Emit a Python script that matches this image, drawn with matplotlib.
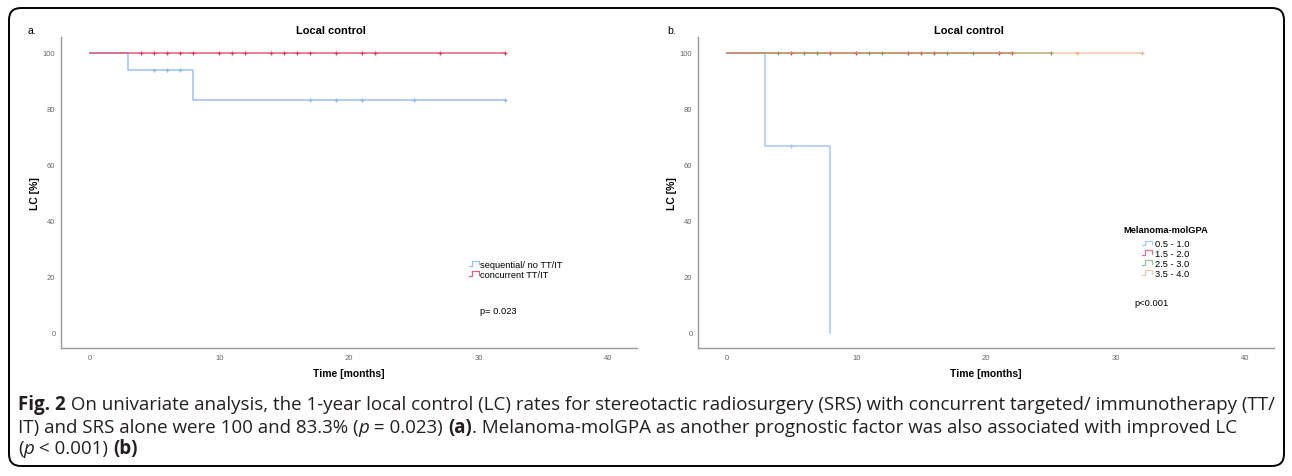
import matplotlib
matplotlib.use("Agg")
import matplotlib.pyplot as plt
from matplotlib.patches import FancyBboxPatch
from matplotlib.lines import Line2D
from matplotlib.legend_handler import HandlerBase
import numpy as np

plt.rcParams['font.family'] = ['Liberation Sans', 'DejaVu Sans']

# ---------------- data ----------------
# Panel a
a_labels = ["sequential/ no TT/IT", "concurrent TT/IT"]
a_blue_t = [0, 3, 8, 32]
a_blue_s = [100, 93.75, 83.3, 83.3]
a_blue_cens = [5, 6, 7, 17, 19, 21, 25, 32]
a_red_t = [0, 32]
a_red_s = [100, 100]
a_red_cens = [4, 5, 6, 7, 8, 10, 11, 12, 14, 15, 16, 17, 19, 21, 22, 27, 32]
a_pvalue = "p= 0.023"

# Panel b
b_labels = ["0.5 - 1.0", "1.5 - 2.0", "2.5 - 3.0", "3.5 - 4.0"]
b_t = [[0, 3, 8], [0, 22], [0, 25], [0, 32]]
b_s = [[100, 66.7, 0], [100, 100], [100, 100], [100, 100]]
b_cens = [[5],
          [5, 8, 10, 14, 15, 16, 21, 22],
          [4, 6, 7, 11, 12, 17, 19, 25],
          [27, 32]]
b_pvalue = "p<0.001"

x_ticks = [0, 10, 20, 30, 40]
y_ticks = [0, 20, 40, 60, 80, 100]

a_colors = ['#8db6ee', '#e0436a']
b_colors = ['#a6c8f3', '#e0385c', '#3f9a3f', '#f7a27a']
b_alphas = [1.0, 0.7, 0.55, 0.6]

W, H = 1292, 477
fig = plt.figure(figsize=(W / 100, H / 100), dpi=100)


def step_value(t, s, x):
    idx = np.searchsorted(t, x, side='right') - 1
    return s[max(idx, 0)]


class StepHandler(HandlerBase):
    def create_artists(self, legend, orig_handle, xdescent, ydescent,
                       width, height, fontsize, trans):
        x0, y0 = -xdescent, -ydescent
        xs = [x0, x0 + 0.35 * width, x0 + 0.35 * width, x0 + width, x0 + width]
        ys = [y0 + 0.15 * height, y0 + 0.15 * height, y0 + 0.85 * height,
              y0 + 0.85 * height, y0 + 0.35 * height]
        ln = Line2D(xs, ys, color=orig_handle.get_color(), lw=0.9,
                    alpha=orig_handle.get_alpha())
        ln.set_transform(trans)
        return [ln]


def style_axes(ax):
    ax.set_xlim(-2.2, 42.2)
    ax.set_ylim(-5.4, 105.7)
    ax.set_xticks(x_ticks)
    ax.set_yticks(y_ticks)
    ax.tick_params(length=0, labelsize=5.5, labelcolor='#666666', pad=4)
    for sp in ['top', 'right']:
        ax.spines[sp].set_visible(False)
    for sp in ['left', 'bottom']:
        ax.spines[sp].set_color('#9a9a9a')
        ax.spines[sp].set_linewidth(1.0)
    ax.set_xlabel("Time [months]", fontsize=7.5, fontweight='bold', labelpad=5.5)
    ax.set_ylabel("LC [%]", fontsize=7.5, fontweight='bold', labelpad=2)


# ---------------- panel a ----------------
ax1 = fig.add_axes([61 / W, 1 - 349 / H, 576 / W, 311 / H])
style_axes(ax1)
handles_a = []
for t, s, c, cens, lab in [(a_blue_t, a_blue_s, a_colors[0], a_blue_cens, a_labels[0]),
                           (a_red_t, a_red_s, a_colors[1], a_red_cens, a_labels[1])]:
    ln, = ax1.step(t, s, where='post', color=c, lw=1.1, alpha=0.85, label=lab)
    ax1.plot(cens, [step_value(t, s, x) for x in cens], linestyle='none',
             marker='+', markersize=3.5, mew=0.9, color=c)
    handles_a.append(ln)
ax1.legend(handles=handles_a, handler_map={Line2D: StepHandler()},
           loc='upper left', bbox_to_anchor=(0.708, 0.284), frameon=False,
           fontsize=6.7, handlelength=1.1, handletextpad=0.1, borderpad=0,
           borderaxespad=0, labelspacing=0.12)
ax1.text(0.727, 0.122, a_pvalue, transform=ax1.transAxes, fontsize=6.7,
         va='center', ha='left')

# ---------------- panel b ----------------
ax2 = fig.add_axes([698 / W, 1 - 349 / H, 576 / W, 311 / H])
style_axes(ax2)
handles_b = []
for t, s, c, a, cens, lab in zip(b_t, b_s, b_colors, b_alphas, b_cens, b_labels):
    ln, = ax2.step(t, s, where='post', color=c, lw=1.1, alpha=a, label=lab)
    ax2.plot(cens, [step_value(t, s, x) for x in cens], linestyle='none',
             marker='+', markersize=3.5, mew=0.9, color=c, alpha=min(1, a + 0.25))
    handles_b.append(ln)
leg = ax2.legend(handles=handles_b, handler_map={Line2D: StepHandler()},
                 loc='upper left', bbox_to_anchor=(0.738, 0.397), frameon=False,
                 fontsize=6.7, handlelength=1.1, handletextpad=0.3, borderpad=0,
                 borderaxespad=0, labelspacing=0.1,
                 title="Melanoma-molGPA",
                 title_fontproperties={'weight': 'bold', 'size': 6.7})
leg._legend_box.sep = 4
ax2.text(0.757, 0.145, b_pvalue, transform=ax2.transAxes, fontsize=6.7,
         va='center', ha='left')

# panel titles and letters
fig.text(331 / W, 1 - 31 / H, "Local control", fontsize=8, fontweight='bold',
         ha='center', va='center')
fig.text(969 / W, 1 - 31 / H, "Local control", fontsize=8, fontweight='bold',
         ha='center', va='center')
fig.text(28 / W, 1 - 31 / H, "a.", fontsize=7.5, ha='left', va='center')
fig.text(667 / W, 1 - 31 / H, "b.", fontsize=7.5, ha='left', va='center')

# border
box = FancyBboxPatch((9 / 100, (H - 467) / 100), (1284 - 9) / 100, (467 - 9) / 100,
                     boxstyle="round,pad=0,rounding_size=0.12",
                     transform=fig.dpi_scale_trans, fill=False,
                     edgecolor='black', linewidth=1.4)
fig.patches.append(box)

# ---------------- caption ----------------
cap_font = ['Open Sans', 'DejaVu Sans']
cap_color = '#231f20'
lines = [
    [("Fig. 2", 'bold', 'normal'),
     (" On univariate analysis, the 1-year local control (LC) rates for stereotactic radiosurgery (SRS) with concurrent targeted/ immunotherapy (TT/", 'normal', 'normal')],
    [("IT) and SRS alone were 100 and 83.3% (", 'normal', 'normal'),
     ("p", 'normal', 'italic'),
     (" = 0.023) ", 'normal', 'normal'),
     ("(a)", 'bold', 'normal'),
     (". Melanoma-molGPA as another prognostic factor was also associated with improved LC", 'normal', 'normal')],
    [("(", 'normal', 'normal'),
     ("p", 'normal', 'italic'),
     (" < 0.001) ", 'normal', 'normal'),
     ("(b)", 'bold', 'normal')],
]
line_y = [405, 428, 449]
renderer = fig.canvas.get_renderer()

# choose a font size so that the first caption line spans the box width
base = 10.0
total = 0.0
for txt, wt, st in lines[0]:
    t = fig.text(0, 0, txt, fontsize=base, fontweight=wt, fontstyle=st,
                 family=cap_font)
    total += t.get_window_extent(renderer=renderer).width
    t.remove()
cap_size = base * (1278 - 18) / total

for segs, yy in zip(lines, line_y):
    x = 18.0
    for txt, wt, st in segs:
        t = fig.text(x / W, 1 - yy / H, txt, fontsize=cap_size, fontweight=wt,
                     fontstyle=st, family=cap_font, color=cap_color,
                     ha='left', va='center')
        bb = t.get_window_extent(renderer=renderer)
        x += bb.width

fig.savefig("out.png", dpi=100)
